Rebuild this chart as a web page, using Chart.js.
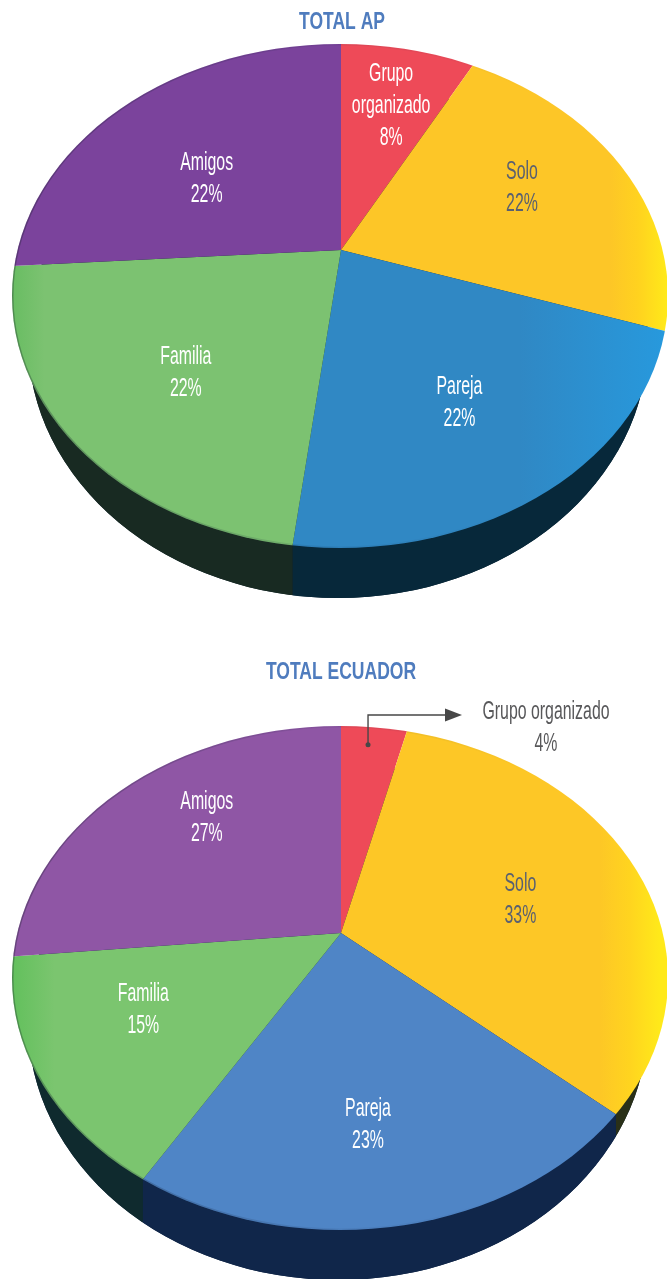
<!DOCTYPE html>
<html><head><meta charset="utf-8">
<script src="https://cdn.jsdelivr.net/npm/chart.js@4"></script>
<style>html,body{margin:0;padding:0;background:#fff}canvas{display:block}</style>
</head><body>
<canvas id="c1" width="667" height="640"></canvas>
<canvas id="c2" width="667" height="639"></canvas>
<script>
const categories = ['Grupo organizado','Solo','Pareja','Familia','Amigos'];
// Slice sizes as drawn. In the AP pie the Amigos slice is drawn larger than its printed 22%.
const apValues = [8,22,22,22,26];
const ecuadorValues = [4,33,23,15,27];
// Percentages as printed on the chart.
const apPrinted = ['8%','22%','22%','22%','22%'];
const ecuadorPrinted = ['4%','33%','23%','15%','27%'];

const FONT = "'Liberation Sans',sans-serif";
const Y_SQUASH = 0.77;
const NARROW = 0.635, TITLE_NARROW = 0.73;
const TEXT_NUDGE = 1.5;

function narrowText(ctx,t,x,y,k){
  ctx.save();ctx.translate(x,y+TEXT_NUDGE);ctx.scale(k,1);ctx.fillText(t,0,0);ctx.restore();
}

const pie3d = {
  id:'pie3d',
  edgePoint(o,a){
    const s=Y_SQUASH, dx=Math.cos(a), dy=s*Math.sin(a);
    const ox=(o.apex[0]-o.top[0])/o.top[2], oy=(o.apex[1]-o.top[1])/o.top[3];
    const ux=dx/o.top[2], uy=dy/o.top[3];
    const A=ux*ux+uy*uy, B=2*(ox*ux+oy*uy), C=ox*ox+oy*oy-1;
    const t=(-B+Math.sqrt(B*B-4*A*C))/(2*A);
    return [o.apex[0]+t*dx,o.apex[1]+t*dy];
  },
  beforeDatasetsDraw(chart,args,o){
    const ctx=chart.ctx, arcs=chart.getDatasetMeta(0).data;
    const [cx,cy,rx,ry]=o.top, [wx,wy,wrx,wry]=o.wall;
    ctx.save();
    ctx.fillStyle=o.wallBase;
    ctx.beginPath();ctx.ellipse(wx,wy,wrx,wry,0,0,Math.PI*2);ctx.fill();
    arcs.forEach((arc,i)=>{
      let lo=Infinity,hi=-Infinity;
      for(let k=0;k<=60;k++){
        const a=arc.startAngle+(arc.endAngle-arc.startAngle)*k/60;
        if(Math.sin(a)<0) continue;
        const p=pie3d.edgePoint(o,a);
        lo=Math.min(lo,p[0]);hi=Math.max(hi,p[0]);
      }
      if(hi<lo) return;
      ctx.save();
      ctx.beginPath();ctx.rect(lo,cy,hi-lo,chart.height-cy);ctx.clip();
      ctx.fillStyle=o.wallColors[i];
      ctx.beginPath();ctx.ellipse(wx,wy,wrx,wry,0,0,Math.PI*2);ctx.fill();
      ctx.restore();
    });
    ctx.restore();
    const m=arcs[0];
    ctx.save();
    ctx.beginPath();ctx.ellipse(cx,cy,rx,ry,0,0,Math.PI*2);ctx.clip();
    ctx.translate(o.apex[0],o.apex[1]);ctx.scale(1,Y_SQUASH);ctx.translate(-m.x,-m.y);
  },
  afterDatasetsDraw(chart,args,o){
    const ctx=chart.ctx;
    const [cx,cy,rx,ry]=o.top;
    ctx.restore();
    ctx.save();
    ctx.beginPath();ctx.ellipse(cx,cy,rx,ry,0,0,Math.PI*2);ctx.clip();
    const g=ctx.createLinearGradient(cx-rx,0,cx+rx,0);
    g.addColorStop(0,'rgba(20,30,40,.32)');g.addColorStop(.5,'rgba(20,30,60,.08)');g.addColorStop(.8,'rgba(20,30,60,0)');
    ctx.strokeStyle=g;ctx.lineWidth=3;
    ctx.beginPath();ctx.ellipse(cx,cy,rx,ry,0,0,Math.PI*2);ctx.stroke();
    ctx.restore();
  },
  afterDraw(chart,args,o){
    const ctx=chart.ctx, arcs=chart.getDatasetMeta(0).data;
    const toDeg=Math.PI/180;
    const at=(arc,r,d)=>{
      const a=(arc.startAngle+arc.endAngle)/2+d*toDeg;
      return [o.apex[0]+r*Math.cos(a),o.apex[1]+Y_SQUASH*r*Math.sin(a)];
    };
    ctx.save();
    ctx.textAlign='center';ctx.textBaseline='middle';
    ctx.fillStyle='#4f7cbe';
    ctx.font='bold 24px '+FONT;
    narrowText(ctx,o.title,o.titlePos[0],o.titlePos[1],TITLE_NARROW);
    ctx.font='25px '+FONT;
    arcs.forEach((arc,i)=>{
      const pl=o.place[i];
      if(!pl) return;
      const lines=(o.names[i]||categories[i]).split('\n').concat(o.printed[i]);
      const p=at(arc,pl[0],pl[1]);
      ctx.fillStyle=o.textColors[i];
      lines.forEach((t,k)=>narrowText(ctx,t,p[0],p[1]+(k-(lines.length-1)/2)*32,NARROW));
    });
    if(o.callout){
      const c=o.callout, p=at(arcs[c.index],c.r,c.d);
      const y=c.y, x=p[0];
      ctx.strokeStyle=ctx.fillStyle='#474747';ctx.lineWidth=1.4;
      ctx.beginPath();ctx.moveTo(x,p[1]);ctx.lineTo(x,y);ctx.lineTo(c.tip-14,y);ctx.stroke();
      ctx.beginPath();ctx.arc(x,p[1],2.5,0,Math.PI*2);ctx.fill();
      ctx.beginPath();ctx.moveTo(c.tip,y);ctx.lineTo(c.tip-17,y-6.5);ctx.lineTo(c.tip-17,y+6.5);ctx.closePath();ctx.fill();
      ctx.fillStyle='#58585a';
      narrowText(ctx,categories[c.index],c.tx,c.ty,NARROW);
      narrowText(ctx,o.printed[c.index],c.tx,c.ty+32,NARROW);
    }
    ctx.restore();
  }
};

function shade(id,from,to,stops){
  const g=document.getElementById(id).getContext('2d').createLinearGradient(from,0,to,0);
  stops.forEach((c,i)=>g.addColorStop(i/(stops.length-1),c));
  return g;
}

function makePie(id,values,colors,opts){
  return new Chart(document.getElementById(id),{
    type:'pie',
    plugins:[pie3d],
    data:{labels:categories,datasets:[{data:values,backgroundColor:colors,borderWidth:0,radius:430,clip:false}]},
    options:{
      responsive:false,animation:false,
      layout:{padding:{left:16}},
      plugins:{legend:{display:false},tooltip:{enabled:false},title:{display:false},pie3d:opts}
    }
  });
}

makePie('c1',apValues,
  ['#ee4a58',shade('c1',610,667,['#fdc627','#ffd21f','#ffe91a']),shade('c1',520,667,['#3088c4','#2799dd']),shade('c1',12,45,['#68bd62','#7cc271']),'#7b439c'],
  {title:'TOTAL AP',titlePos:[342,21],
   apex:[341,250],top:[340,296,328,252],wall:[338,340,310,258],
   wallBase:'#0c2230',wallColors:['#0c2230','#243018','#07283a','#182a22','#1a1a30'],
   printed:apPrinted,names:['Grupo\norganizado'],
   place:[[195,0.5],[199,-3],[230,1.4],[221,-2.2],[164,-8.2]],
   textColors:['#fff','#5a6070','#fff','#fff','#fff']});

makePie('c2',ecuadorValues,
  ['#ee4a58',shade('c2',600,660,['#fdc726','#ffd41f','#ffe91a']),'#4f85c6',shade('c2',12,55,['#62c05c','#7bc56f']),'#8f56a5'],
  {title:'TOTAL ECUADOR',titlePos:[341,31],
   apex:[341,293],top:[340,338,328,252],wall:[338,382,310,258],
   wallBase:'#0e2440',wallColors:['#0e2440','#2a3018','#10264a','#0f2a2e','#1a1a30'],
   printed:ecuadorPrinted,names:[],
   place:[null,[185,3.5],[249,2.6],[221,5.2],[202,6]],
   textColors:['#fff','#5a6070','#fff','#fff','#fff'],
   callout:{index:0,r:246,d:-0.75,y:75,tip:462,tx:546,ty:71}});
</script>
</body></html>
